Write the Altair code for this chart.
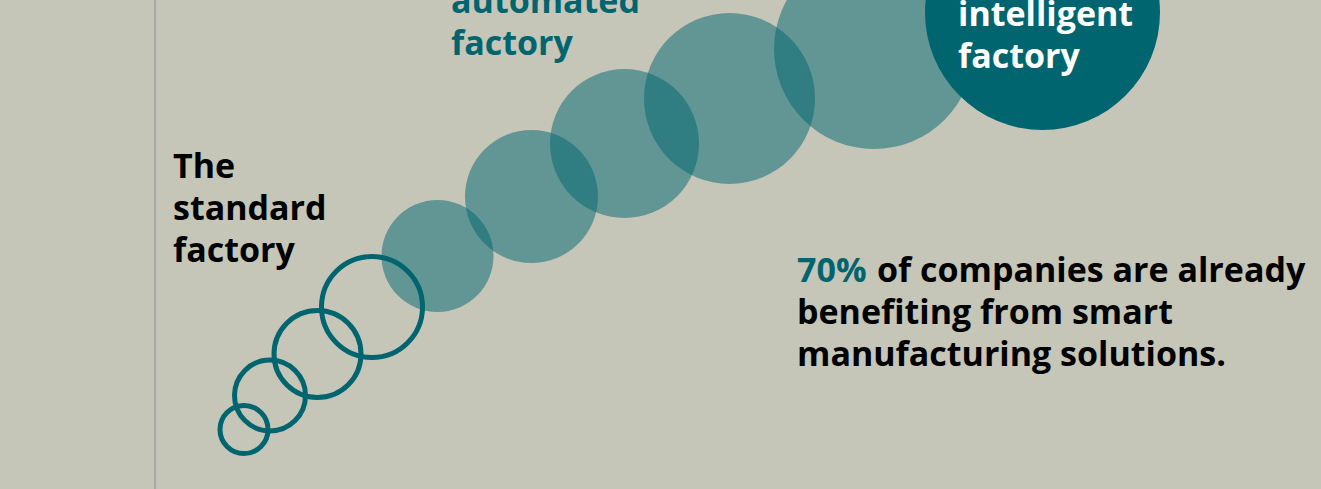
import altair as alt
import pandas as pd

# Circles: centre x, centre y (from top), diameter, style
circle_x = [244, 270, 317.5, 372, 437.5, 531.5, 624.5, 729.5, 874, 1042.5]
circle_y = [429.5, 395.5, 354, 307, 256, 196.5, 143.5, 98.5, 49, 12.5]
circle_d = [48, 71, 87, 101, 112, 133, 149, 171, 200, 235]
circle_kind = ["ring", "ring", "ring", "ring", "soft", "soft", "soft", "soft", "soft", "solid"]

# Text labels
label_text = ["The", "standard", "factory",
              "automated", "factory",
              "intelligent", "factory",
              "70%", "of companies are already", "benefiting from smart", "manufacturing solutions."]
label_x = [173, 173, 173, 451, 451, 958, 958, 797, 877, 797, 797]
label_y = [178, 220, 262, 13, 55, 26, 68, 282, 282, 324, 366]
label_group = ["black", "black", "black", "teal", "teal", "white", "white",
               "teal", "black", "black", "black"]

divider_x = [155]

W, H = 1321, 489
TEAL = "#00656f"
BG = "#c5c6b8"
FONT = "Open Sans"

circles = pd.DataFrame({"x": circle_x, "y": circle_y, "d": circle_d, "kind": circle_kind})
circles["s"] = circles["d"] ** 2
labels = pd.DataFrame({"text": label_text, "x": label_x, "y": label_y, "group": label_group})
divider = pd.DataFrame({"x": divider_x, "y0": [0], "y1": [H]})

xs = alt.Scale(domain=[0, W], nice=False, zero=False)
ys = alt.Scale(domain=[0, H], nice=False, zero=False, reverse=True)

def X(f="x"):
    return alt.X(f"{f}:Q", scale=xs, axis=None)

def Y(f="y"):
    return alt.Y(f"{f}:Q", scale=ys, axis=None)

rule = alt.Chart(divider).mark_rule(color="#a9aaa5", strokeWidth=2).encode(
    x=X(), y=Y("y0"), y2="y1:Q"
)

rings = alt.Chart(circles).transform_filter(alt.datum.kind == "ring").mark_point(
    shape="circle", filled=False, stroke=TEAL, strokeWidth=5, opacity=1
).encode(x=X(), y=Y(), size=alt.Size("s:Q", scale=None, legend=None))

soft = alt.Chart(circles).transform_filter(alt.datum.kind == "soft").mark_circle(
    color=TEAL, opacity=0.5
).encode(x=X(), y=Y(), size=alt.Size("s:Q", scale=None, legend=None))

solid = alt.Chart(circles).transform_filter(alt.datum.kind == "solid").mark_circle(
    color=TEAL, opacity=1
).encode(x=X(), y=Y(), size=alt.Size("s:Q", scale=None, legend=None))

def text_layer(group, color):
    return alt.Chart(labels).transform_filter(alt.datum.group == group).mark_text(
        align="left", baseline="alphabetic", font=FONT, fontWeight="bold",
        fontSize=34, color=color
    ).encode(x=X(), y=Y(), text="text:N")

chart = alt.layer(
    rule, rings, soft, solid,
    text_layer("black", "#000000"),
    text_layer("teal", TEAL),
    text_layer("white", "#ffffff"),
).properties(
    width=W, height=H, background=BG, padding=0,
    autosize=alt.AutoSizeParams(type="none")
).configure_view(stroke=None)

chart.save("out.html", embed_options={"renderer": "svg", "actions": False})
